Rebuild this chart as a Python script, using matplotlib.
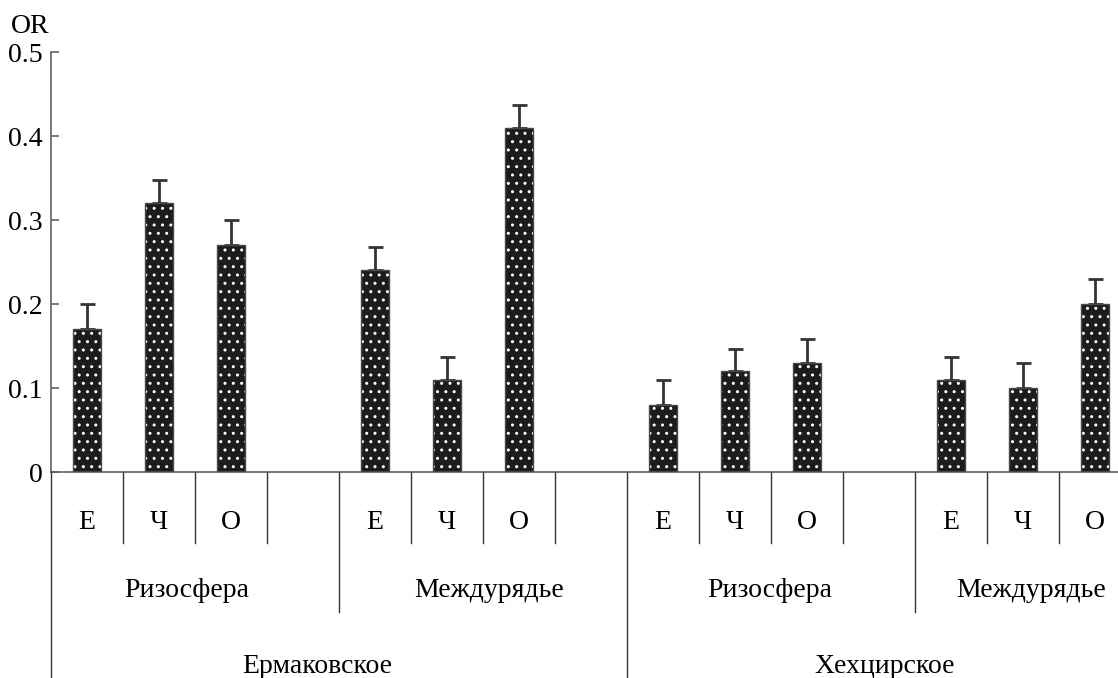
import numpy as np
import matplotlib.pyplot as plt
import matplotlib.transforms as mtransforms

# data: site -> zone -> kind
sites = ['Ермаковское', 'Хехцирское']
zones = ['Ризосфера', 'Междурядье']
kinds = ['Е', 'Ч', 'О']

or_vals = [0.17, 0.32, 0.27, 0.24, 0.11, 0.41,
           0.08, 0.12, 0.13, 0.11, 0.10, 0.20]
or_err = [0.03, 0.028, 0.03, 0.028, 0.027, 0.027,
          0.03, 0.027, 0.028, 0.027, 0.03, 0.03]

yticks = [0, 0.1, 0.2, 0.3, 0.4, 0.5]
ytick_labels = ['0', '0.1', '0.2', '0.3', '0.4', '0.5']

plt.rcParams['font.family'] = ['Liberation Serif', 'DejaVu Serif']
plt.rcParams['hatch.linewidth'] = 1.0
FS = 20
AX_COL = '#555555'
LINE_COL = '#333333'

W, H = 1118, 678
fig = plt.figure(figsize=(W / 100, H / 100), dpi=100)
# axes deliberately runs a bit past the right edge (the reference is cropped)
ax = fig.add_axes([51 / W, (H - 472) / H, 1080 / W, 420 / H])

# slot positions: 4 slots per zone block (3 bars + one empty slot)
n_blocks = len(sites) * len(zones)
xpos = [4 * b + k for b in range(n_blocks) for k in range(len(kinds))]

ax.bar(xpos, or_vals, width=0.4, color='#1c1c1c', edgecolor='white',
       hatch='..', linewidth=0, zorder=2)
ax.bar(xpos, or_vals, width=0.4, fill=False, edgecolor='#4a4a4a',
       linewidth=1.0, zorder=3)
ax.errorbar(xpos, or_vals, yerr=[np.zeros(len(or_err)), or_err], fmt='none',
            ecolor=LINE_COL, elinewidth=2.0, capsize=5.4, capthick=2.0, zorder=1)

ax.set_xlim(-0.5, 14.5)
ax.set_ylim(0, 0.5)
ax.set_yticks(yticks)
ax.set_yticklabels(ytick_labels, fontsize=FS)
ax.set_xticks([])
ax.tick_params(axis='y', direction='in', length=6, width=1.1, color=AX_COL, pad=6)
for s in ['top', 'right']:
    ax.spines[s].set_visible(False)
for s in ['left', 'bottom']:
    ax.spines[s].set_color(AX_COL)
    ax.spines[s].set_linewidth(1.1)

# multi-level category axis below the plot
tr = mtransforms.blended_transform_factory(ax.transData, ax.transAxes)
lvl1, lvl2, lvl3 = -0.169, -0.333, -0.52
kw = dict(color=LINE_COL, lw=1.0, clip_on=False, transform=tr)
# small horizontal nudges (in slots) so the group labels sit as in the source
zone_nudge = [-0.11, 0.09, -0.02, 0.11]
site_nudge = [-0.3, 0.08]

for b in range(n_blocks):
    for k, name in enumerate(kinds):
        ax.text(4 * b + k, -0.121, name, ha='center', va='center',
                fontsize=FS, transform=tr)
    for k in range(1, 4):
        if 4 * b + k - 0.5 < 14.5:
            ax.plot([4 * b + k - 0.5] * 2, [0, lvl1], **kw)

for b in range(n_blocks):
    left = 4 * b - 0.5
    right = min(4 * b + 3.5, 14.5)
    ax.text((left + right) / 2 + zone_nudge[b], -0.283, zones[b % 2],
            ha='center', va='center', fontsize=FS, transform=tr)
    if b % 2 == 1:
        ax.plot([left] * 2, [0, lvl2], **kw)

for i, site in enumerate(sites):
    left = 8 * i - 0.5
    right = min(8 * i + 7.5, 14.5)
    ax.text((left + right) / 2 + site_nudge[i], -0.464, site, ha='center',
            va='center', fontsize=FS, transform=tr)
    ax.plot([left] * 2, [0, lvl3], **kw)

fig.text(11 / W, 1 - 33 / H, 'OR', fontsize=FS, ha='left', va='baseline')

fig.savefig('out.png', dpi=100)
